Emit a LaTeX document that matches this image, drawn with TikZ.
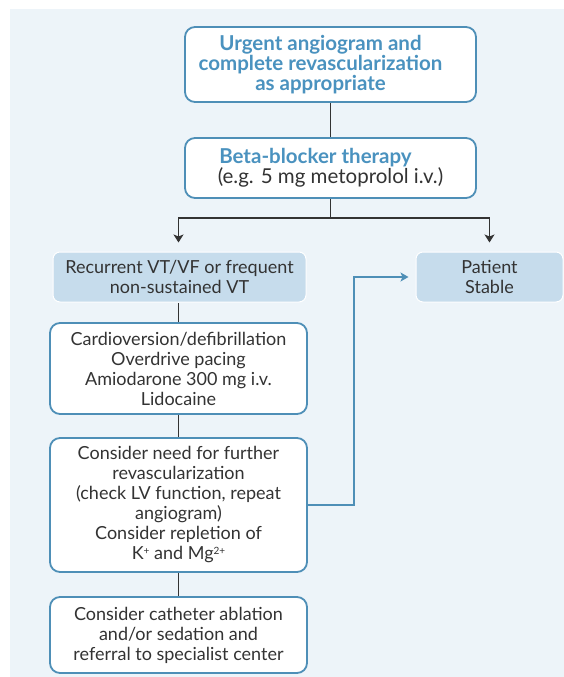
\documentclass[tikz,border=0pt]{standalone}
\usepackage{fontspec}
\setmainfont{Lato}
\usetikzlibrary{arrows.meta,positioning}
\definecolor{panel}{HTML}{EDF4F9}
\definecolor{boxfill}{HTML}{C6DCEC}
\definecolor{bord}{HTML}{4E8FB7}
\definecolor{titleblue}{HTML}{4A92BF}
\definecolor{bodytext}{HTML}{333333}
\newcommand{\tl}[2][20pt]{#2\kern#1}
\newcommand{\smallsup}[1]{\raisebox{0.55ex}{\fontsize{10}{10}\selectfont #1}}
\tikzset{
  whitebox/.style={draw=bord, line width=1.8pt, fill=white, rounded corners=10pt,
    align=center, inner sep=0pt, text=bodytext, font=\fontsize{18}{20}\selectfont},
  filledbox/.style={draw=white, line width=1pt, fill=boxfill, rounded corners=7pt,
    align=center, inner sep=0pt, text=bodytext, font=\fontsize{18}{20}\selectfont},
  titletext/.style={text=titleblue, font=\bfseries\fontsize{20.5}{20}\selectfont},
  conn/.style={draw=black!80, line width=1.1pt},
  connarrow/.style={conn, -{Stealth[length=8pt,width=10pt,inset=2pt]}},
  bluearrow/.style={draw=bord, line width=1.1pt, -{Stealth[length=8pt,width=9pt,inset=2pt]}}
}
\begin{document}
\begin{tikzpicture}[x=1pt,y=-1pt]
\useasboundingbox (0,0) rectangle (564,677);
\fill[panel] (10,9) rectangle (564,677);

\node[whitebox, titletext, minimum width=291pt, minimum height=75pt] (top) at (330.5,64.5)
  {\tl{Urgent angiogram and}\\\tl{complete revascularization}\\\tl{as appropriate}};
\node[whitebox, minimum width=291pt, minimum height=60pt] (bb) at (330.5,168)
  {{\color{titleblue}\bfseries\fontsize{20.5}{20}\selectfont \tl[30pt]{Beta-blocker therapy}}\\{\fontsize{20.5}{20}\selectfont (e.g. 5 mg metoprolol i.v.)}};
\node[filledbox, minimum width=253pt, minimum height=50pt] (rec) at (179.5,277)
  {Recurrent VT/VF or frequent\\non-sustained VT};
\node[filledbox, minimum width=147pt, minimum height=50pt] (ps) at (489.5,277)
  {Patient\\Stable};
\node[whitebox, minimum width=257pt, minimum height=91pt] (cardio) at (178.5,368.5)
  {Cardioversion/defibrillation\\Overdrive pacing\\Amiodarone 300 mg i.v.\\Lidocaine};
\node[whitebox, minimum width=257pt, minimum height=134pt] (cons) at (178.5,505)
  {Consider need for further\\revascularization\\(check LV function, repeat\\angiogram)\\Consider repletion of\\K\smallsup{+} and Mg\smallsup{2+}};
\node[whitebox, minimum width=257pt, minimum height=76pt] (cath) at (178.5,635)
  {Consider catheter ablation\\and/or sedation and\\referral to specialist center};

\coordinate (split) at (330.5,218);
\coordinate (bend) at (354,505);
\draw[conn] (top) -- (bb);
\draw[conn] (bb.south) -- (split);
\draw[connarrow] (split) -| ([yshift=9pt]rec.north -| cardio.north);
\draw[connarrow] (split) -| ([yshift=9pt]ps.north);
\draw[conn] (cardio.north) -- (cardio.north |- rec.south);
\draw[conn] (cardio) -- (cons);
\draw[conn] (cons) -- (cath);
\draw[bluearrow, shorten >=7pt] (cons.east) -- (bend) |- (ps.west);
\end{tikzpicture}
\end{document}
